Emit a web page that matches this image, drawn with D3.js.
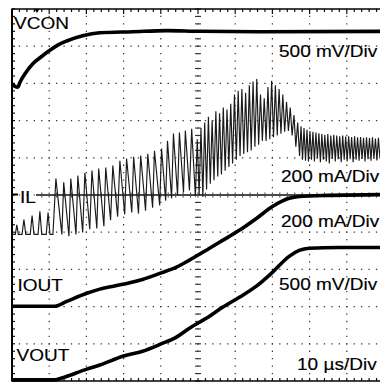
<!DOCTYPE html>
<html>
<head>
<meta charset="utf-8">
<script src="https://cdn.jsdelivr.net/npm/d3@7"></script>
<style>
  html, body { margin: 0; padding: 0; background: #fff; }
  svg { display: block; }
</style>
</head>
<body>
<svg id="scope" width="380" height="384"></svg>
<script>
// Scope capture: 10 µs/div horizontally, values given in screen divisions
// (0 = bottom graticule line, 10 = top graticule line).

// VCON trace [time µs, divisions]
const vconTime = [0, 0.8, 1.6, 2.1, 3.5, 5.6, 7.8, 9.9, 12.3, 14.7, 19.0, 23.6, 32.4, 41.6, 50.4, 66.5, 100];
const vconDiv  = [7.98, 7.92, 7.90, 8.02, 8.26, 8.53, 8.71, 8.87, 9.03, 9.14, 9.28, 9.36, 9.39, 9.42, 9.40, 9.39, 9.40];

// IOUT trace
const ioutTime = [0, 11.5, 14.7, 20.1, 23.6, 29.8, 35.1, 39.9, 44.2, 47.7, 53.1, 56.6, 61.1, 65.7, 70.0, 74.5, 77.2, 85.3, 100];
const ioutDiv  = [2.01, 2.01, 2.14, 2.36, 2.47, 2.60, 2.73, 2.90, 3.06, 3.25, 3.57, 3.78, 4.05, 4.37, 4.69, 4.91, 4.96, 4.99, 5.01];

// VOUT trace
const voutTime = [0, 11.5, 13.4, 20.1, 23.6, 30.0, 35.1, 39.9, 44.2, 47.7, 53.1, 56.6, 61.1, 65.7, 70.0, 74.5, 77.2, 79.9, 87.9, 100];
const voutDiv  = [0.03, 0.03, 0.08, 0.32, 0.43, 0.67, 0.80, 0.99, 1.18, 1.42, 1.74, 1.98, 2.25, 2.55, 2.92, 3.35, 3.51, 3.57, 3.59, 3.59];

// IL switching waveform: successive peaks and valleys [time µs, divisions]
const ilPoints = [
  [0,3.94],[0.9,3.94],[1.3,4.20],[1.7,3.94],[2.7,3.94],[3.2,4.34],[3.7,3.94],[4.9,3.94],[5.4,4.45],[5.9,3.94],
  [7.0,3.94],[7.5,4.56],[8.0,3.94],[9.2,3.94],[9.7,4.53],[10.2,3.94],[11.0,3.94],
  [11.8,5.44],[13.4,3.94],[13.9,5.34],[15.3,3.89],[15.8,5.44],[17.2,3.94],[17.7,5.52],[19.0,3.99],[19.6,5.60],
  [20.9,4.08],[21.5,5.66],[22.8,4.10],[23.3,5.71],[24.7,4.16],[25.2,5.74],[26.5,4.32],[27.1,5.79],[28.4,4.42],
  [29.0,5.92],[30.3,4.48],[30.8,5.98],[32.2,4.53],[32.7,6.03],[34.0,4.50],[34.6,6.06],[35.9,4.58],[36.5,6.11],
  [37.8,4.66],[38.3,6.19],[39.7,4.72],[40.2,6.25],[41.3,4.85],[41.8,6.46],[42.9,4.91],[43.4,6.65],[44.5,4.99],
  [45.0,6.68],[46.1,5.07],[46.6,6.73],[47.7,5.12],[48.3,6.78],[49.3,4.96],
  [49.8,6.50],[50.3,5.00],[50.8,6.80],[51.3,4.95],[51.8,6.95],[52.3,5.15],[52.8,7.10],[53.3,5.30],[53.8,7.00],
  [54.3,5.40],[54.8,7.25],[55.3,5.50],[55.8,7.20],[56.3,5.55],[56.8,7.35],[57.3,5.65],[57.8,7.30],[58.3,5.75],
  [58.8,7.45],[59.3,5.85],[59.8,7.70],[60.3,5.95],[60.8,7.80],[61.3,6.05],[61.8,7.85],[62.3,6.10],[62.8,7.75],
  [63.3,6.15],[63.8,7.95],[64.3,6.20],[64.8,8.05],[65.3,6.30],[65.8,8.12],[66.3,6.35],[66.8,7.70],[67.3,6.45],
  [67.8,7.60],[68.3,6.45],[68.8,7.90],[69.3,6.50],[69.8,8.07],[70.3,6.55],[70.8,7.95],[71.3,6.60],[71.8,7.85],
  [72.3,6.65],[72.8,7.70],[73.3,6.70],[73.8,7.50],[74.3,6.72],[74.8,7.35],[75.3,6.60],[75.8,7.15],[76.3,6.30],
  [76.8,6.95],[77.3,6.05],
  [77.7,6.85],[78.1,5.95],[78.5,6.80],[78.9,5.92],[79.3,6.75],[79.7,5.90],[80.1,6.72],[80.5,5.95],[80.9,6.70],
  [81.3,5.90],[81.7,6.68],[82.1,5.98],[82.5,6.66],[82.9,5.88],[83.3,6.64],[83.7,5.95],[84.1,6.62],[84.5,5.90],
  [84.9,6.64],[85.3,5.85],[85.7,6.60],[86.1,5.97],[86.5,6.62],[86.9,5.90],[87.3,6.60],[87.7,5.96],[88.1,6.58],
  [88.5,5.88],[88.9,6.60],[89.3,5.95],[89.7,6.57],[90.1,5.90],[90.5,6.58],[90.9,5.96],[91.3,6.56],[91.7,5.88],
  [92.1,6.58],[92.5,5.95],[92.9,6.55],[93.3,5.92],[93.7,6.56],[94.1,5.97],[94.5,6.54],[94.9,5.90],[95.3,6.55],
  [95.7,5.96],[96.1,6.53],[96.5,5.92],[96.9,6.55],[97.3,5.97],[97.7,6.52],[98.1,5.93],[98.5,6.54],[98.9,5.98],
  [99.3,6.52],[99.7,5.95],[100,6.30]
];

// Channel names and volts/amps-per-division readouts
const channelNames = ["VCON", "IL", "IOUT", "VOUT"];
const scaleReadouts = ["500 mV/Div", "200 mA/Div", "200 mA/Div", "500 mV/Div", "10 µs/Div"];

const svg = d3.select("#scope");
const x = d3.scaleLinear().domain([0, 100]).range([12, 384]);
const y = d3.scaleLinear().domain([0, 10]).range([381, 9]);

// ---- graticule ----
const grid = svg.append("g");
const majorX = d3.range(10, 100, 10);
const majorY = d3.range(1, 10, 1);
const minorStep = x(2) - x(0);

grid.selectAll("line.gx").data(majorX).join("line")
  .attr("x1", d => x(d)).attr("x2", d => x(d))
  .attr("y1", y(10)).attr("y2", y(0))
  .attr("stroke", "#333").attr("stroke-width", 1.2)
  .attr("stroke-dasharray", `1.3 ${minorStep - 1.3}`)
  .attr("stroke-dashoffset", 0.65);

grid.selectAll("line.gy").data(majorY).join("line")
  .attr("x1", x(0)).attr("x2", x(100))
  .attr("y1", d => y(d)).attr("y2", d => y(d))
  .attr("stroke", "#333").attr("stroke-width", 1.2)
  .attr("stroke-dasharray", `1.3 ${minorStep - 1.3}`)
  .attr("stroke-dashoffset", 0.65);

const minorT = d3.range(0, 100.01, 2);
const minorD = d3.range(0, 10.001, 0.2);

// ticks on the top and bottom frame
grid.selectAll("line.tt").data(minorT).join("line")
  .attr("x1", d => x(d)).attr("x2", d => x(d))
  .attr("y1", y(10)).attr("y2", d => y(10) + (d % 10 === 0 ? 5 : 3))
  .attr("stroke", "#111").attr("stroke-width", 1.2);
grid.selectAll("line.tb").data(minorT).join("line")
  .attr("x1", d => x(d)).attr("x2", d => x(d))
  .attr("y1", y(0)).attr("y2", y(0) - 3)
  .attr("stroke", "#111").attr("stroke-width", 1.2);
// ticks on the left frame
grid.selectAll("line.tl").data(minorD).join("line")
  .attr("x1", x(0)).attr("x2", x(0) + 3)
  .attr("y1", d => y(d)).attr("y2", d => y(d))
  .attr("stroke", "#111").attr("stroke-width", 1.2);
// centre vertical axis ticks
grid.selectAll("line.tcv").data(minorD).join("line")
  .attr("x1", x(50) - 3).attr("x2", x(50) + 3)
  .attr("y1", d => y(d)).attr("y2", d => y(d))
  .attr("stroke", "#333").attr("stroke-width", 1.1);

// frame
grid.append("line").attr("x1", x(0)).attr("x2", x(0)).attr("y1", y(10) - 0.5).attr("y2", y(0) + 0.5)
  .attr("stroke", "#000").attr("stroke-width", 2);
grid.append("line").attr("x1", x(0)).attr("x2", x(100)).attr("y1", y(10)).attr("y2", y(10))
  .attr("stroke", "#000").attr("stroke-width", 1.6);
grid.append("line").attr("x1", x(0)).attr("x2", x(100)).attr("y1", y(0)).attr("y2", y(0))
  .attr("stroke", "#000").attr("stroke-width", 1.6);

// trigger marker on top frame
grid.append("path")
  .attr("d", `M${x(6.7) - 2.5},${y(10)} L${x(6.7) + 2.5},${y(10)} L${x(6.7)},${y(10) + 4} Z`)
  .attr("fill", "#000");

// ---- IL reference level ----
const ilRef = svg.append("g");
ilRef.append("line").attr("x1", 36).attr("x2", x(100)).attr("y1", y(5)).attr("y2", y(5))
  .attr("stroke", "#4a4a4a").attr("stroke-width", 2);
ilRef.selectAll("line.tch").data(minorT.filter(d => x(d) > 36)).join("line")
  .attr("x1", d => x(d)).attr("x2", d => x(d))
  .attr("y1", y(5) - 2.5).attr("y2", y(5) + 2.5)
  .attr("stroke", "#4a4a4a").attr("stroke-width", 1.1);
ilRef.append("line").attr("x1", x(0)).attr("x2", 18).attr("y1", y(5) - 0.5).attr("y2", y(5) - 0.5)
  .attr("stroke", "#000").attr("stroke-width", 2);

// ---- traces ----
const zip = (ts, vs) => ts.map((t, i) => [t, vs[i]]);
const ilLine = d3.line().x(d => x(d[0])).y(d => y(d[1]));
const smoothLine = d3.line().x(d => x(d[0])).y(d => y(d[1])).curve(d3.curveMonotoneX);

svg.append("path").datum(ilPoints)
  .attr("d", ilLine).attr("fill", "none")
  .attr("stroke", "#1a1a1a").attr("stroke-width", 1.15).attr("stroke-linejoin", "miter");

[[vconTime, vconDiv], [ioutTime, ioutDiv], [voutTime, voutDiv]].forEach(([ts, vs]) => {
  svg.append("path").datum(zip(ts, vs))
    .attr("d", smoothLine).attr("fill", "none")
    .attr("stroke", "#000").attr("stroke-width", 3.6).attr("stroke-linejoin", "round");
});

// ---- labels ----
const labels = svg.append("g")
  .attr("font-family", "'Liberation Sans', Arial, Helvetica, sans-serif")
  .attr("font-size", 17).attr("fill", "#000")
  .attr("stroke", "#000").attr("stroke-width", 0.15);

function label(text, px, py) {
  labels.append("text")
    .attr("transform", `translate(${px},${py}) scale(1.12,1)`)
    .text(text);
}

label(channelNames[0], 14, 29);
label(channelNames[1], 20, 202.5);
label(channelNames[2], 17.5, 290.5);
label(channelNames[3], 16.5, 361);

label(scaleReadouts[0], 279, 56.5);
label(scaleReadouts[1], 281, 181.5);
label(scaleReadouts[2], 281, 226.5);
label(scaleReadouts[3], 279, 289.5);
label(scaleReadouts[4], 297, 370);
</script>
</body>
</html>
